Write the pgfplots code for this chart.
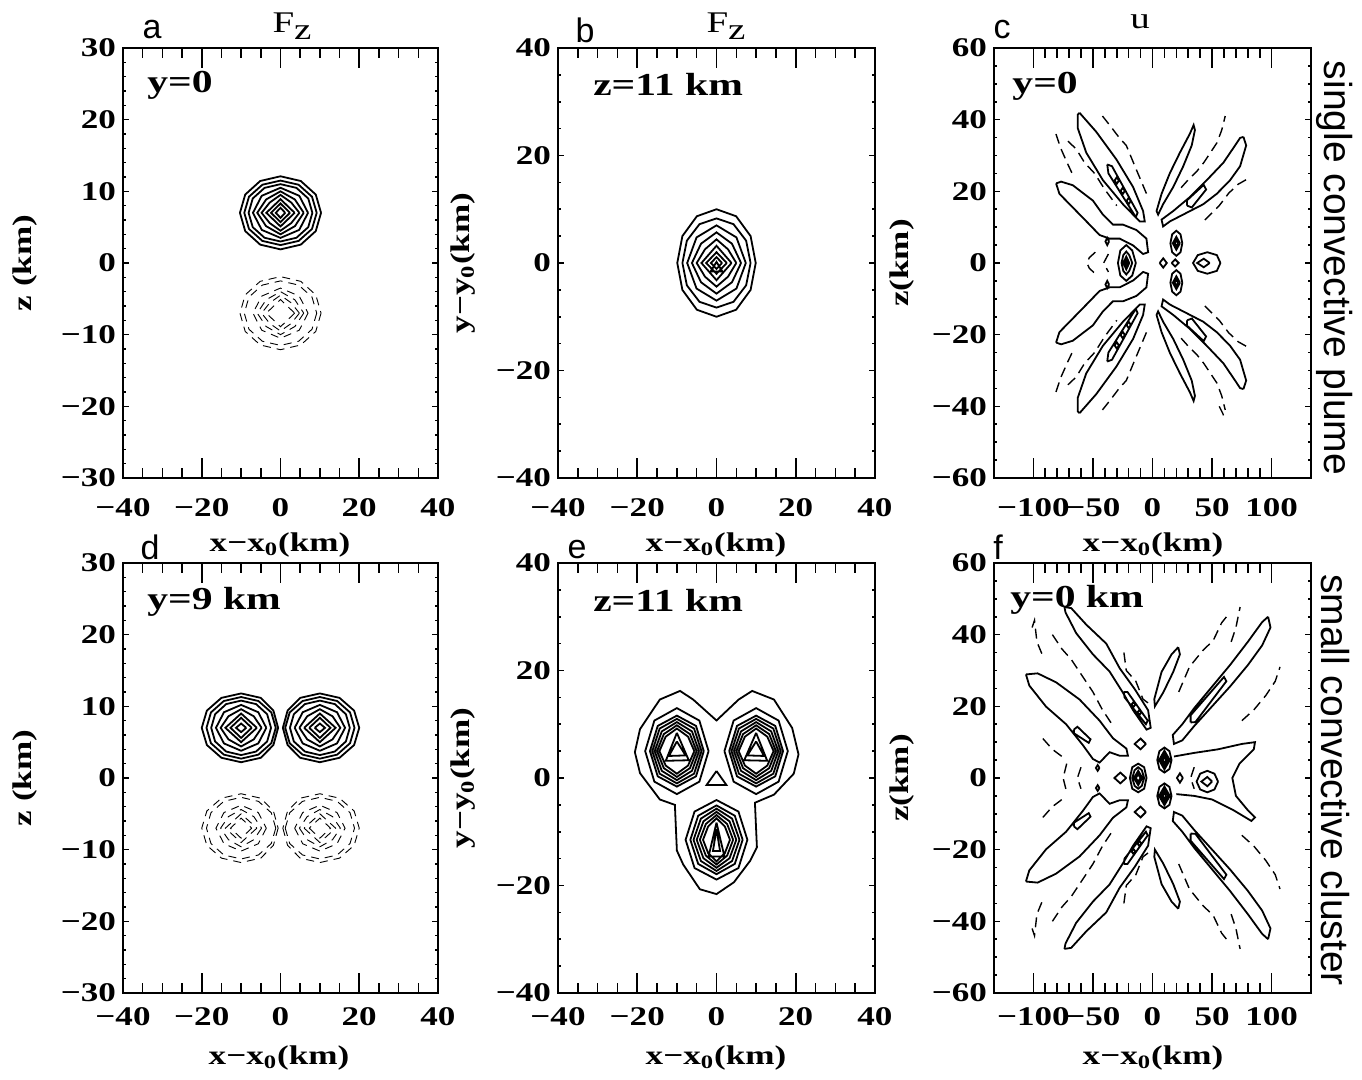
\documentclass[border=0pt]{standalone}
\usepackage{pgfplots}
\pgfplotsset{compat=1.18}
\usepackage{fontspec}
\setmainfont{Liberation Serif}
\newfontfamily\lab{Liberation Serif}[FakeStretch=1.3]
\newfontfamily\sflab{Liberation Sans}
\newcommand\tk{\lab\bfseries\fontsize{13.5}{15}\selectfont}
\newcommand\lb{\lab\bfseries\fontsize{13.5}{15}\selectfont}
\newcommand\an{\lab\bfseries\fontsize{16}{18}\selectfont}
\newcommand\pl{\sflab\fontsize{17}{19}\selectfont}
\newcommand\ti{\lab\fontsize{15}{17}\selectfont}
\newcommand\rl{\sflab\fontsize{19.5}{21}\selectfont}
\newcommand\Fz{F\raisebox{-0.55ex}{z}}
\pgfplotsset{
 myax/.style={scale only axis, anchor=south west,
   axis line style={line width=1pt},
   tick style={line width=0.8pt, black},
   tick align=inside,
   ticklabel style={font=\tk},
   unbounded coords=jump, clip=true},
 rowA/.style={xticklabel style={yshift=-6.5pt}},
 rowB/.style={xticklabel style={yshift=-3.5pt}},
 xonly/.style={major tick length=10pt, minor tick length=5pt, ytick=\empty},
 yonly/.style={major tick length=3pt, minor tick length=1.5pt, xtick=\empty},
 small/.style={xmin=-40,xmax=40, xtick={-40,-20,0,20,40}, xticklabels={−40,−20,0,20,40}, minor x tick num=3},
 zax/.style={ymin=-30,ymax=30, ytick={-30,-20,-10,0,10,20,30}, yticklabels={−30,−20,−10,0,10,20,30}, minor y tick num=4},
 yax/.style={ymin=-40,ymax=40, ytick={-40,-20,0,20,40}, yticklabels={−40,−20,0,20,40}, minor y tick num=3},
 big/.style={xmin=-133,xmax=133, xtick={-100,-50,0,50,100}, xticklabels={−100,−50,0,50,100}, minor x tick num=4,
   ymin=-60,ymax=60, ytick={-60,-40,-20,0,20,40,60}, yticklabels={−60,−40,−20,0,20,40,60}, minor y tick num=3},
 sol/.style={line width=0.9pt, black},
 das/.style={line width=0.45pt, black, dash pattern=on 4pt off 3pt},
 dasb/.style={line width=0.7pt, black, dash pattern=on 5pt off 3pt},
}
\begin{document}
\begin{tikzpicture}
\useasboundingbox (0pt,0pt) rectangle (681pt,540pt);
% ---------------- panel a
\begin{axis}[myax, rowA, small, zax, xonly, at={(61.5pt,301pt)}, width=157.5pt, height=215pt]
\addplot[sol] coordinates {
(10.3,7)(8.96,9.55)(5.15,11.44)(0,12.1)(-5.15,11.44)(-8.96,9.55)(-10.3,7)(-8.96,4.45)(-5.15,2.56)(0,1.9)(5.15,2.56)(8.96,4.45)(10.3,7) (nan,nan)
(9.2,7)(8,9.25)(4.6,10.92)(0,11.5)(-4.6,10.92)(-8,9.25)(-9.2,7)(-8,4.75)(-4.6,3.08)(0,2.5)(4.6,3.08)(8,4.75)(9.2,7) (nan,nan)
(8.1,7)(7.05,9)(4.05,10.48)(0,11)(-4.05,10.48)(-7.05,9)(-8.1,7)(-7.05,5)(-4.05,3.52)(0,3)(4.05,3.52)(7.05,5)(8.1,7) (nan,nan)
(7,7)(4.76,9.38)(0,10.5)(-4.76,9.38)(-7,7)(-4.76,4.62)(0,3.5)(4.76,4.62)(7,7) (nan,nan)
(5.9,7)(3.66,8.86)(0,10)(-3.66,8.86)(-5.9,7)(-3.66,5.14)(0,4)(3.66,5.14)(5.9,7) (nan,nan)
(4.8,7)(2.74,8.43)(0,9.5)(-2.74,8.43)(-4.8,7)(-2.74,5.57)(0,4.5)(2.74,5.57)(4.8,7) (nan,nan)
(3.6,7)(0,8.9)(-3.6,7)(0,5.1)(3.6,7) (nan,nan)
(2.4,7)(0,8.3)(-2.4,7)(0,5.7)(2.4,7) (nan,nan)
(1.2,7)(0,7.7)(-1.2,7)(0,6.3)(1.2,7)
};
\addplot[das] coordinates {
(10.3,-7)(8.96,-9.55)(5.15,-11.44)(0,-12.1)(-5.15,-11.44)(-8.96,-9.55)(-10.3,-7)(-8.96,-4.45)(-5.15,-2.56)(0,-1.9)(5.15,-2.56)(8.96,-4.45)(10.3,-7) (nan,nan)
(9.2,-7)(8,-9.25)(4.6,-10.92)(0,-11.5)(-4.6,-10.92)(-8,-9.25)(-9.2,-7)(-8,-4.75)(-4.6,-3.08)(0,-2.5)(4.6,-3.08)(8,-4.75)(9.2,-7) (nan,nan)
(7,-7)(4.76,-9.38)(0,-10.5)(-4.76,-9.38)(-7,-7)(-4.76,-4.62)(0,-3.5)(4.76,-4.62)(7,-7) (nan,nan)
(5.9,-7)(3.66,-8.86)(0,-10)(-3.66,-8.86)(-5.9,-7)(-3.66,-5.14)(0,-4)(3.66,-5.14)(5.9,-7) (nan,nan)
(4.8,-7)(2.74,-8.43)(0,-9.5)(-2.74,-8.43)(-4.8,-7)(-2.74,-5.57)(0,-4.5)(2.74,-5.57)(4.8,-7) (nan,nan)
(3.6,-7)(0,-8.9)(-3.6,-7)(0,-5.1)(3.6,-7)
};
\node[anchor=west,font=\an,inner sep=0pt] at (rel axis cs:0.076,0.913) {y=0};
\end{axis}
\begin{axis}[myax, small, zax, yonly, at={(61.5pt,301pt)}, width=157.5pt, height=215pt]
\end{axis}
% ---------------- panel b
\begin{axis}[myax, rowA, small, yax, xonly, at={(279pt,301pt)}, width=158.5pt, height=215pt]
\addplot[sol] coordinates {
(9.9,0)(8.61,5)(4.95,8.7)(0,10)(-4.95,8.7)(-8.61,5)(-9.9,0)(-8.61,-5)(-4.95,-8.7)(0,-10)(4.95,-8.7)(8.61,-5)(9.9,0) (nan,nan)
(8.6,0)(7.48,4.15)(4.3,7.22)(0,8.3)(-4.3,7.22)(-7.48,4.15)(-8.6,0)(-7.48,-4.15)(-4.3,-7.22)(0,-8.3)(4.3,-7.22)(7.48,-4.15)(8.6,0) (nan,nan)
(7.4,0)(5.03,4.76)(0,7)(-5.03,4.76)(-7.4,0)(-5.03,-4.76)(0,-7)(5.03,-4.76)(7.4,0) (nan,nan)
(6.2,0)(3.9,3.59)(0,5.7)(-3.9,3.59)(-6.2,0)(-3.9,-3.59)(0,-5.7)(3.9,-3.59)(6.2,0) (nan,nan)
(5,0)(2.9,2.55)(0,4.4)(-2.9,2.55)(-5,0)(-2.9,-2.55)(0,-4.4)(2.9,-2.55)(5,0) (nan,nan)
(3.8,0)(0,3.2)(-3.8,0)(0,-3.2)(3.8,0) (nan,nan)
(2.6,0)(0,2)(-2.6,0)(0,-2)(2.6,0) (nan,nan)
(1.4,0)(0,1.1)(-1.4,0)(0,-1.1)(1.4,0) (nan,nan)
(-1.5,-1.6)(1.5,-1.6)(0,0.2)(-1.5,-1.6)
};
\node[anchor=west,font=\an,inner sep=0pt] at (rel axis cs:0.11,0.916) {z=11 km};
\end{axis}
\begin{axis}[myax, small, yax, yonly, at={(279pt,301pt)}, width=158.5pt, height=215pt]
\end{axis}
% ---------------- panel c
\begin{axis}[myax, rowA, big, xonly, at={(497pt,301pt)}, width=158.5pt, height=215pt]
\addplot[sol] coordinates {
(-61.2,41.9)(-47.2,36.6)(-30.3,28.9)(-16.3,21.2)(-7.9,14.5)(-6.5,11.6)(-10.7,11.6)(-24.8,16.4)(-41.6,23.1)(-55.6,30.8)(-62.7,37.6)(-62.7,41.4)(-61.2,41.9) (nan,nan)
(-61.2,-41.9)(-47.2,-36.6)(-30.3,-28.9)(-16.3,-21.2)(-7.9,-14.5)(-6.5,-11.6)(-10.7,-11.6)(-24.8,-16.4)(-41.6,-23.1)(-55.6,-30.8)(-62.7,-37.6)(-62.7,-41.4)(-61.2,-41.9) (nan,nan)
(-38,27.5)(-34,27)(-12.5,14)(-14,12.8)(-37,25)(-38,27.5) (nan,nan)
(-38,-27.5)(-34,-27)(-12.5,-14)(-14,-12.8)(-37,-25)(-38,-27.5) (nan,nan)
(-28.2,23)(-30,23.9)(-31.8,23)(-30,22.1)(-28.2,23) (nan,nan)
(-23.2,20.1)(-25,21)(-26.8,20.1)(-25,19.2)(-23.2,20.1) (nan,nan)
(-18.2,17.3)(-20,18.2)(-21.8,17.3)(-20,16.4)(-18.2,17.3) (nan,nan)
(-28.2,-23)(-30,-23.9)(-31.8,-23)(-30,-22.1)(-28.2,-23) (nan,nan)
(-23.2,-20.1)(-25,-21)(-26.8,-20.1)(-25,-19.2)(-23.2,-20.1) (nan,nan)
(-18.2,-17.3)(-20,-18.2)(-21.8,-17.3)(-20,-16.4)(-18.2,-17.3) (nan,nan)
(-80.9,22.2)(-76.7,22.7)(-66.9,21.7)(-50,17.4)(-41.6,13.5)(-33.2,10.7)(-24.8,10.7)(-13.5,9.2)(-5.1,6.8)(-3.7,3)(-7.9,2.5)(-16.3,4.9)(-27.5,6.8)(-36,6.8)(-44.4,7.8)(-52.8,10.7)(-66.9,15.5)(-78.1,19.3)(-80.9,22.2) (nan,nan)
(-80.9,-22.2)(-76.7,-22.7)(-66.9,-21.7)(-50,-17.4)(-41.6,-13.5)(-33.2,-10.7)(-24.8,-10.7)(-13.5,-9.2)(-5.1,-6.8)(-3.7,-3)(-7.9,-2.5)(-16.3,-4.9)(-27.5,-6.8)(-36,-6.8)(-44.4,-7.8)(-52.8,-10.7)(-66.9,-15.5)(-78.1,-19.3)(-80.9,-22.2) (nan,nan)
(35.6,37.1)(32.9,32.8)(25.8,27)(17.4,21.2)(8.9,16.4)(4.7,13.5)(3.4,14.5)(7.6,19.3)(14.6,25.1)(23,30.8)(31.4,36.1)(34.5,38.5)(35.6,37.1) (nan,nan)
(35.6,-37.1)(32.9,-32.8)(25.8,-27)(17.4,-21.2)(8.9,-16.4)(4.7,-13.5)(3.4,-14.5)(7.6,-19.3)(14.6,-25.1)(23,-30.8)(31.4,-36.1)(34.5,-38.5)(35.6,-37.1) (nan,nan)
(76.3,35.2)(78.6,32.8)(73.5,27)(65.1,23.1)(53.9,19.3)(42.6,16.4)(28.6,14)(14.6,11.6)(8.9,10.2)(7.6,12.1)(17.4,14.5)(31.4,18.4)(45.5,23.1)(59.5,28)(69.3,32.8)(73.5,34.9)(76.3,35.2) (nan,nan)
(76.3,-35.2)(78.6,-32.8)(73.5,-27)(65.1,-23.1)(53.9,-19.3)(42.6,-16.4)(28.6,-14)(14.6,-11.6)(8.9,-10.2)(7.6,-12.1)(17.4,-14.5)(31.4,-18.4)(45.5,-23.1)(59.5,-28)(69.3,-32.8)(73.5,-34.9)(76.3,-35.2) (nan,nan)
(29,16)(33,15.5)(45,20.5)(43,21.8)(29,17.5)(29,16) (nan,nan)
(29,-16)(33,-15.5)(45,-20.5)(43,-21.8)(29,-17.5)(29,-16) (nan,nan)
(-14,0)(-17,3.5)(-22,5)(-27,3.5)(-29,0)(-27,-3.5)(-22,-5)(-17,-3.5)(-14,0) (nan,nan)
(-17,0)(-19.5,2.2)(-22,3.2)(-24.5,2.2)(-26,0)(-24.5,-2.2)(-22,-3.2)(-19.5,-2.2)(-17,0) (nan,nan)
(-19.5,0)(-22,1.8)(-24.5,0)(-22,-1.8)(-19.5,0) (nan,nan)
(-21,0)(-22,0.8)(-23,0)(-22,-0.8)(-21,0) (nan,nan)
(-36.5,6)(-38,7)(-39.5,6)(-38,5)(-36.5,6) (nan,nan)
(-36.5,-6)(-38,-7)(-39.5,-6)(-38,-5)(-36.5,-6) (nan,nan)
(25,5.5)(23.5,8)(20,9)(16.5,8)(15,5.5)(16.5,3)(20,2)(23.5,3)(25,5.5) (nan,nan)
(23,5.5)(20,7.3)(17,5.5)(20,3.7)(23,5.5) (nan,nan)
(21.5,5.5)(20,6.3)(18.5,5.5)(20,4.7)(21.5,5.5) (nan,nan)
(25,-5.5)(23.5,-8)(20,-9)(16.5,-8)(15,-5.5)(16.5,-3)(20,-2)(23.5,-3)(25,-5.5) (nan,nan)
(23,-5.5)(20,-7.3)(17,-5.5)(20,-3.7)(23,-5.5) (nan,nan)
(21.5,-5.5)(20,-6.3)(18.5,-5.5)(20,-4.7)(21.5,-5.5) (nan,nan)
(6,0)(9,1.3)(12,0)(9,-1.3)(6,0) (nan,nan)
(16,0)(19,1)(22,0)(19,-1)(16,0) (nan,nan)
(57,0)(54,2.2)(46,3)(38,2.2)(34,0)(38,-2.2)(46,-3)(54,-2.2)(57,0) (nan,nan)
(48,0)(43,1.2)(37.5,0)(43,-1.2)(48,0)
};
\addplot[dasb] coordinates {
(-71,34)(-64,31.8)(-57,28)(-48.6,25)(-40,20.5)(-30,16) (nan,nan)
(-71,-34)(-64,-31.8)(-57,-28)(-48.6,-25)(-40,-20.5)(-30,-16) (nan,nan)
(-81,36)(-77,32)(-71,27.5)(-66,24) (nan,nan)
(-81,-36)(-77,-32)(-71,-27.5)(-66,-24) (nan,nan)
(-42,41)(-36,38.5)(-28,35)(-22,32.8)(-13.5,26)(-5,19.3) (nan,nan)
(-42,-41)(-36,-38.5)(-28,-35)(-22,-32.8)(-13.5,-26)(-5,-19.3) (nan,nan)
(-48,3)(-53,1.5)(-55,0)(-53,-1.5)(-48,-3) (nan,nan)
(-37,2.5)(-41,0)(-37,-2.5) (nan,nan)
(24,21)(31,23.6)(37,25.5)(43,28)(48,30.5)(54,33.5)(58,37)(61,41) (nan,nan)
(24,-21)(31,-23.6)(37,-25.5)(43,-28)(48,-30.5)(54,-33.5)(58,-37)(61,-41) (nan,nan)
(44,12)(50,14)(56,16)(64,19.5)(72,22)(80,23.5) (nan,nan)
(44,-12)(50,-14)(56,-16)(64,-19.5)(72,-22)(80,-23.5) (nan,nan)
(56,-40)(59,-42)(61,-44)
};
\node[anchor=west,font=\an,inner sep=0pt] at (rel axis cs:0.057,0.91) {y=0};
\end{axis}
\begin{axis}[myax, big, yonly, at={(497pt,301pt)}, width=158.5pt, height=215pt]
\end{axis}
% ---------------- panel d
\begin{axis}[myax, rowB, small, zax, xonly, at={(61.5pt,43.5pt)}, width=157.5pt, height=215pt]
\addplot[sol] coordinates {
(-0.6,7)(-1.8,9.4)(-5,11.18)(-10,11.8)(-15,11.18)(-18.7,9.4)(-20,7)(-18.7,4.6)(-15,2.82)(-10,2.2)(-5,2.82)(-1.8,4.6)(-0.6,7) (nan,nan)
(-1.2,7)(-2.34,9.15)(-5.6,10.74)(-10,11.3)(-14.4,10.74)(-17.66,9.15)(-18.8,7)(-17.66,4.85)(-14.4,3.26)(-10,2.7)(-5.6,3.26)(-2.34,4.85)(-1.2,7) (nan,nan)
(-2.4,7)(-3.39,8.9)(-6.2,10.31)(-10,10.8)(-13.8,10.31)(-16.61,8.9)(-17.6,7)(-16.61,5.1)(-13.8,3.69)(-10,3.2)(-6.2,3.69)(-3.39,5.1)(-2.4,7) (nan,nan)
(-3.6,7)(-5.65,9.18)(-10,10.2)(-14.35,9.18)(-16.4,7)(-14.35,4.82)(-10,3.8)(-5.65,4.82)(-3.6,7) (nan,nan)
(-4.8,7)(-6.78,8.61)(-10,9.6)(-13.22,8.61)(-15.2,7)(-13.22,5.39)(-10,4.4)(-6.78,5.39)(-4.8,7) (nan,nan)
(-6,7)(-10,9)(-14,7)(-10,5)(-6,7) (nan,nan)
(-7.3,7)(-10,8.4)(-12.7,7)(-10,5.6)(-7.3,7) (nan,nan)
(-8.7,7)(-10,7.6)(-11.3,7)(-10,6.4)(-8.7,7) (nan,nan)
(0.6,7)(1.8,9.4)(5,11.18)(10,11.8)(15,11.18)(18.7,9.4)(20,7)(18.7,4.6)(15,2.82)(10,2.2)(5,2.82)(1.8,4.6)(0.6,7) (nan,nan)
(1.2,7)(2.34,9.15)(5.6,10.74)(10,11.3)(14.4,10.74)(17.66,9.15)(18.8,7)(17.66,4.85)(14.4,3.26)(10,2.7)(5.6,3.26)(2.34,4.85)(1.2,7) (nan,nan)
(2.4,7)(3.39,8.9)(6.2,10.31)(10,10.8)(13.8,10.31)(16.61,8.9)(17.6,7)(16.61,5.1)(13.8,3.69)(10,3.2)(6.2,3.69)(3.39,5.1)(2.4,7) (nan,nan)
(3.6,7)(5.65,9.18)(10,10.2)(14.35,9.18)(16.4,7)(14.35,4.82)(10,3.8)(5.65,4.82)(3.6,7) (nan,nan)
(4.8,7)(6.78,8.61)(10,9.6)(13.22,8.61)(15.2,7)(13.22,5.39)(10,4.4)(6.78,5.39)(4.8,7) (nan,nan)
(6,7)(10,9)(14,7)(10,5)(6,7) (nan,nan)
(7.3,7)(10,8.4)(12.7,7)(10,5.6)(7.3,7) (nan,nan)
(8.7,7)(10,7.6)(11.3,7)(10,6.4)(8.7,7)
};
\addplot[das] coordinates {
(-0.6,-7)(-1.8,-9.4)(-5,-11.18)(-10,-11.8)(-15,-11.18)(-18.7,-9.4)(-20,-7)(-18.7,-4.6)(-15,-2.82)(-10,-2.2)(-5,-2.82)(-1.8,-4.6)(-0.6,-7) (nan,nan)
(-1.2,-7)(-2.34,-9.15)(-5.6,-10.74)(-10,-11.3)(-14.4,-10.74)(-17.66,-9.15)(-18.8,-7)(-17.66,-4.85)(-14.4,-3.26)(-10,-2.7)(-5.6,-3.26)(-2.34,-4.85)(-1.2,-7) (nan,nan)
(-3.6,-7)(-5.65,-9.18)(-10,-10.2)(-14.35,-9.18)(-16.4,-7)(-14.35,-4.82)(-10,-3.8)(-5.65,-4.82)(-3.6,-7) (nan,nan)
(-4.8,-7)(-6.78,-8.61)(-10,-9.6)(-13.22,-8.61)(-15.2,-7)(-13.22,-5.39)(-10,-4.4)(-6.78,-5.39)(-4.8,-7) (nan,nan)
(-6,-7)(-10,-9)(-14,-7)(-10,-5)(-6,-7) (nan,nan)
(-7.3,-7)(-10,-8.4)(-12.7,-7)(-10,-5.6)(-7.3,-7) (nan,nan)
(0.6,-7)(1.8,-9.4)(5,-11.18)(10,-11.8)(15,-11.18)(18.7,-9.4)(20,-7)(18.7,-4.6)(15,-2.82)(10,-2.2)(5,-2.82)(1.8,-4.6)(0.6,-7) (nan,nan)
(1.2,-7)(2.34,-9.15)(5.6,-10.74)(10,-11.3)(14.4,-10.74)(17.66,-9.15)(18.8,-7)(17.66,-4.85)(14.4,-3.26)(10,-2.7)(5.6,-3.26)(2.34,-4.85)(1.2,-7) (nan,nan)
(3.6,-7)(5.65,-9.18)(10,-10.2)(14.35,-9.18)(16.4,-7)(14.35,-4.82)(10,-3.8)(5.65,-4.82)(3.6,-7) (nan,nan)
(4.8,-7)(6.78,-8.61)(10,-9.6)(13.22,-8.61)(15.2,-7)(13.22,-5.39)(10,-4.4)(6.78,-5.39)(4.8,-7) (nan,nan)
(6,-7)(10,-9)(14,-7)(10,-5)(6,-7) (nan,nan)
(7.3,-7)(10,-8.4)(12.7,-7)(10,-5.6)(7.3,-7)
};
\node[anchor=west,font=\an,inner sep=0pt] at (rel axis cs:0.076,0.91) {y=9 km};
\end{axis}
\begin{axis}[myax, small, zax, yonly, at={(61.5pt,43.5pt)}, width=157.5pt, height=215pt]
\end{axis}
% ---------------- panel e
\begin{axis}[myax, rowB, small, yax, xonly, at={(279pt,43.5pt)}, width=158.5pt, height=215pt]
\addplot[sol] coordinates {
(-20.6,4.8)(-19.3,9.1)(-14.3,14.6)(-9.2,16.2)(-5.9,14.6)(0,10.7)(5.6,14.6)(9,16.2)(14.5,14.6)(19.1,9.3)(20.7,4.4)(19.5,0.8)(14.5,-3.1)(9.7,-4.6)(10.2,-12.9)(8.5,-15.4)(4.4,-19.4)(0,-21.6)(-4.2,-20.7)(-8.4,-16.1)(-10,-13.5)(-10.5,-5)(-14.3,-4)(-19.3,0.9)(-20.6,4.8) (nan,nan)
(-2,5)(-4.32,10.68)(-10,13)(-15.68,10.68)(-18,5)(-15.68,-0.68)(-10,-3)(-4.32,-0.68)(-2,5) (nan,nan)
(-3.2,5)(-5.17,9.69)(-10,11.6)(-14.83,9.69)(-16.8,5)(-14.83,0.31)(-10,-1.6)(-5.17,0.31)(-3.2,5) (nan,nan)
(-3.8,5)(-5.66,9.2)(-10,11)(-14.34,9.2)(-16.2,5)(-14.34,0.8)(-10,-1)(-5.66,0.8)(-3.8,5) (nan,nan)
(-4.4,5)(-6.19,8.67)(-10,10.4)(-13.81,8.67)(-15.6,5)(-13.81,1.33)(-10,-0.4)(-6.19,1.33)(-4.4,5) (nan,nan)
(-5,5)(-6.7,8.17)(-10,9.8)(-13.3,8.17)(-15,5)(-13.3,1.83)(-10,0.2)(-6.7,1.83)(-5,5) (nan,nan)
(-5.6,5)(-7.18,7.69)(-10,9.2)(-12.82,7.69)(-14.4,5)(-12.82,2.31)(-10,0.8)(-7.18,2.31)(-5.6,5) (nan,nan)
(-10,8.4)(-12.8,3.2)(-7,3.3)(-10,8.4) (nan,nan)
(-10,6.8)(-12,4.1)(-7.8,4.2)(-10,6.8) (nan,nan)
(2,5)(4.32,10.68)(10,13)(15.68,10.68)(18,5)(15.68,-0.68)(10,-3)(4.32,-0.68)(2,5) (nan,nan)
(3.2,5)(5.17,9.69)(10,11.6)(14.83,9.69)(16.8,5)(14.83,0.31)(10,-1.6)(5.17,0.31)(3.2,5) (nan,nan)
(3.8,5)(5.66,9.2)(10,11)(14.34,9.2)(16.2,5)(14.34,0.8)(10,-1)(5.66,0.8)(3.8,5) (nan,nan)
(4.4,5)(6.19,8.67)(10,10.4)(13.81,8.67)(15.6,5)(13.81,1.33)(10,-0.4)(6.19,1.33)(4.4,5) (nan,nan)
(5,5)(6.7,8.17)(10,9.8)(13.3,8.17)(15,5)(13.3,1.83)(10,0.2)(6.7,1.83)(5,5) (nan,nan)
(5.6,5)(7.18,7.69)(10,9.2)(12.82,7.69)(14.4,5)(12.82,2.31)(10,0.8)(7.18,2.31)(5.6,5) (nan,nan)
(10,8.4)(12.8,3.2)(7,3.3)(10,8.4) (nan,nan)
(10,6.8)(12,4.1)(7.8,4.2)(10,6.8) (nan,nan)
(7.8,-11.5)(5.54,-6.25)(0,-4.1)(-5.54,-6.25)(-7.8,-11.5)(-5.54,-16.75)(0,-18.9)(5.54,-16.75)(7.8,-11.5) (nan,nan)
(6.6,-11.5)(4.62,-7.02)(0,-5.1)(-4.62,-7.02)(-6.6,-11.5)(-4.62,-15.98)(0,-17.9)(4.62,-15.98)(6.6,-11.5) (nan,nan)
(5.8,-11.5)(3.94,-7.56)(0,-5.7)(-3.94,-7.56)(-5.8,-11.5)(-3.94,-15.44)(0,-17.3)(3.94,-15.44)(5.8,-11.5) (nan,nan)
(5,-11.5)(3.3,-8.07)(0,-6.3)(-3.3,-8.07)(-5,-11.5)(-3.3,-14.93)(0,-16.7)(3.3,-14.93)(5,-11.5) (nan,nan)
(4.2,-11.5)(2.69,-8.56)(0,-6.9)(-2.69,-8.56)(-4.2,-11.5)(-2.69,-14.44)(0,-16.1)(2.69,-14.44)(4.2,-11.5) (nan,nan)
(3.4,-11.5)(2.11,-9.02)(0,-7.5)(-2.11,-9.02)(-3.4,-11.5)(-2.11,-13.98)(0,-15.5)(2.11,-13.98)(3.4,-11.5) (nan,nan)
(0,-8.3)(-2,-14.6)(2,-14.6)(0,-8.3) (nan,nan)
(0,-9.5)(-0.9,-13.6)(0.9,-13.6)(0,-9.5) (nan,nan)
(0,1.3)(-2.5,-1.3)(2.5,-1.3)(0,1.3)
};
\node[anchor=west,font=\an,inner sep=0pt] at (rel axis cs:0.11,0.914) {z=11 km};
\end{axis}
\begin{axis}[myax, small, yax, yonly, at={(279pt,43.5pt)}, width=158.5pt, height=215pt]
\end{axis}
% ---------------- panel f
\begin{axis}[myax, rowB, big, xonly, at={(497pt,43.5pt)}, width=158.5pt, height=215pt]
\addplot[sol] coordinates {
(-73.9,47.7)(-68.2,47.4)(-55.6,42.8)(-38.8,37.5)(-27.5,30.6)(-14.9,24.8)(-3.7,18.9)(-1.5,14)(-5,13.5)(-16.3,18.9)(-24.8,23.8)(-36,29.7)(-50,34.5)(-64,40.4)(-73,46.2)(-73.9,47.7) (nan,nan)
(-73.9,-47.7)(-68.2,-47.4)(-55.6,-42.8)(-38.8,-37.5)(-27.5,-30.6)(-14.9,-24.8)(-3.7,-18.9)(-1.5,-14)(-5,-13.5)(-16.3,-18.9)(-24.8,-23.8)(-36,-29.7)(-50,-34.5)(-64,-40.4)(-73,-46.2)(-73.9,-47.7) (nan,nan)
(-24,24)(-21,24)(-4,16)(-5.5,15)(-23.5,22.5)(-24,24) (nan,nan)
(-24,-24)(-21,-24)(-4,-16)(-5.5,-15)(-23.5,-22.5)(-24,-24) (nan,nan)
(-14.4,20.5)(-16,21.2)(-17.6,20.5)(-16,19.8)(-14.4,20.5) (nan,nan)
(-9.4,18.3)(-11,19)(-12.6,18.3)(-11,17.6)(-9.4,18.3) (nan,nan)
(-14.4,-20.5)(-16,-21.2)(-17.6,-20.5)(-16,-19.8)(-14.4,-20.5) (nan,nan)
(-9.4,-18.3)(-11,-19)(-12.6,-18.3)(-11,-17.6)(-9.4,-18.3) (nan,nan)
(-106.2,28.9)(-96.4,29.2)(-80.9,26.7)(-61.2,21.9)(-44.4,16)(-33.2,11.1)(-21.9,8.2)(-20.6,6.2)(-27.5,6.2)(-36,7.2)(-44.4,4.3)(-50,5.3)(-58.5,9.2)(-72.5,15)(-89.3,19.9)(-103.4,25.8)(-106.2,28.9) (nan,nan)
(-106.2,-28.9)(-96.4,-29.2)(-80.9,-26.7)(-61.2,-21.9)(-44.4,-16)(-33.2,-11.1)(-21.9,-8.2)(-20.6,-6.2)(-27.5,-6.2)(-36,-7.2)(-44.4,-4.3)(-50,-5.3)(-58.5,-9.2)(-72.5,-15)(-89.3,-19.9)(-103.4,-25.8)(-106.2,-28.9) (nan,nan)
(-66,13.5)(-63,14.3)(-52,10.8)(-53.5,9.8)(-66,12.5)(-66,13.5) (nan,nan)
(-66,-13.5)(-63,-14.3)(-52,-10.8)(-53.5,-9.8)(-66,-12.5)(-66,-13.5) (nan,nan)
(-44.5,2.8)(-46,3.6)(-47.5,2.8)(-46,2)(-44.5,2.8) (nan,nan)
(-44.5,-2.8)(-46,-3.6)(-47.5,-2.8)(-46,-2)(-44.5,-2.8) (nan,nan)
(21.6,36.5)(23,34.5)(17.4,29.6)(8.9,23.8)(2,20)(1.5,22)(7.6,29.6)(16,34.5)(21.6,36.5) (nan,nan)
(21.6,-36.5)(23,-34.5)(17.4,-29.6)(8.9,-23.8)(2,-20)(1.5,-22)(7.6,-29.6)(16,-34.5)(21.6,-36.5) (nan,nan)
(97,45)(99,42)(92,37)(80,31.5)(65,25.5)(50,20)(35,14.5)(25,10.5)(18,9.5)(17,12)(25,15)(35,19.5)(50,25.5)(65,31.5)(80,38)(92,43.5)(97,45) (nan,nan)
(97,-45)(99,-42)(92,-37)(80,-31.5)(65,-25.5)(50,-20)(35,-14.5)(25,-10.5)(18,-9.5)(17,-12)(25,-15)(35,-19.5)(50,-25.5)(65,-31.5)(80,-38)(92,-43.5)(97,-45) (nan,nan)
(32,15.5)(36,15.6)(62,27)(60,28.2)(32,17.5)(32,15.5) (nan,nan)
(32,-15.5)(36,-15.6)(62,-27)(60,-28.2)(32,-17.5)(32,-15.5) (nan,nan)
(18,6)(35,7)(55,8)(75,9.5)(86,10)(85,8)(73,4)(67,0)(70,-5)(80,-9)(86,-11)(83,-12)(68,-9)(50,-6)(35,-5)(20,-4.5) (nan,nan)
(55,-1)(52,1.2)(46,2)(40,1.2)(37,-1)(40,-3.2)(46,-4)(52,-3.2)(55,-1) (nan,nan)
(50,-1)(46,0.3)(41,-1)(46,-2.3)(50,-1) (nan,nan)
(-5,0)(-7,3)(-12,4)(-17,3)(-19,0)(-17,-3)(-12,-4)(-7,-3)(-5,0) (nan,nan)
(-7,0)(-9,2.2)(-12,3)(-15,2.2)(-17,0)(-15,-2.2)(-12,-3)(-9,-2.2)(-7,0) (nan,nan)
(-8.5,0)(-12,2)(-15.5,0)(-12,-2)(-8.5,0) (nan,nan)
(-10,0)(-12,1)(-14,0)(-12,-1)(-10,0) (nan,nan)
(16,5)(14.2,7.5)(10,8.5)(5.8,7.5)(4,5)(5.8,2.5)(10,1.5)(14.2,2.5)(16,5) (nan,nan)
(14.5,5)(10,7.6)(5.5,5)(10,2.4)(14.5,5) (nan,nan)
(13,5)(10,6.7)(7,5)(10,3.3)(13,5) (nan,nan)
(11.5,5)(10,5.8)(8.5,5)(10,4.2)(11.5,5) (nan,nan)
(16,-5)(14.2,-7.5)(10,-8.5)(5.8,-7.5)(4,-5)(5.8,-2.5)(10,-1.5)(14.2,-2.5)(16,-5) (nan,nan)
(14.5,-5)(10,-7.6)(5.5,-5)(10,-2.4)(14.5,-5) (nan,nan)
(13,-5)(10,-6.7)(7,-5)(10,-3.3)(13,-5) (nan,nan)
(11.5,-5)(10,-5.8)(8.5,-5)(10,-4.2)(11.5,-5) (nan,nan)
(-5.5,9.5)(-10,11)(-15,9.5)(-10,8)(-5.5,9.5) (nan,nan)
(-5.5,-9.5)(-10,-11)(-15,-9.5)(-10,-8)(-5.5,-9.5) (nan,nan)
(25.5,0)(23,1.3)(20.5,0)(23,-1.3)(25.5,0) (nan,nan)
(-22,0)(-27,1.5)(-32,0)(-27,-1.5)(-22,0)
};
\addplot[dasb] coordinates {
(-84,40)(-76,36)(-68,33)(-60,29)(-50,24)(-42,19)(-34,15) (nan,nan)
(-84,-40)(-76,-36)(-68,-33)(-60,-29)(-50,-24)(-42,-19)(-34,-15) (nan,nan)
(-24,35)(-22,30)(-14,27)(-8,22)(-2,20.5) (nan,nan)
(-24,-35)(-22,-30)(-14,-27)(-8,-22)(-2,-20.5) (nan,nan)
(-101,42)(-99,44)(-97,38)(-92,34) (nan,nan)
(-101,-42)(-99,-44)(-97,-38)(-92,-34) (nan,nan)
(-92,11)(-84,8)(-76,6) (nan,nan)
(-92,-11)(-84,-8)(-76,-6) (nan,nan)
(-72,4)(-75,0)(-72,-4) (nan,nan)
(-60,3)(-63,0)(-60,-3) (nan,nan)
(22,24)(31,31)(42,35.5)(51,38.4)(58,43.3)(65,46.2) (nan,nan)
(22,-24)(31,-31)(42,-35.5)(51,-38.4)(58,-43.3)(65,-46.2) (nan,nan)
(66,38)(70,42)(73.5,47.7) (nan,nan)
(66,-38)(70,-42)(73.5,-47.7) (nan,nan)
(75,16)(85,19)(95,23)(103,27)(107,31) (nan,nan)
(75,-16)(85,-19)(95,-23)(103,-27)(107,-31) (nan,nan)
(35,3)(32,0)(35,-3)
};
\node[anchor=west,font=\an,inner sep=0pt] at (rel axis cs:0.05,0.915) {y=0 km};
\end{axis}
\begin{axis}[myax, big, yonly, at={(497pt,43.5pt)}, width=158.5pt, height=215pt]
\end{axis}
% ---------------- outer labels
\node[font=\pl] at (76pt,525pt) {a};
\node[font=\ti] at (146pt,527pt) {\Fz};
\node[font=\pl] at (292.5pt,525pt) {b};
\node[font=\ti] at (363pt,527pt) {\Fz};
\node[font=\pl] at (501pt,525pt) {c};
\node[font=\ti] at (570pt,529pt) {u};
\node[font=\pl] at (75pt,266.5pt) {d};
\node[font=\pl] at (288.5pt,265pt) {e};
\node[font=\pl] at (499pt,266.5pt) {f};
\node[font=\lb,rotate=90] at (12.5pt,408.5pt) {z (km)};
\node[font=\lb,rotate=90] at (231.5pt,408.5pt) {y−y\textsubscript{0}(km)};
\node[font=\lb,rotate=90] at (451pt,408.5pt) {z(km)};
\node[font=\lb,rotate=90] at (12.5pt,151pt) {z (km)};
\node[font=\lb,rotate=90] at (231.5pt,151pt) {y−y\textsubscript{0}(km)};
\node[font=\lb,rotate=90] at (451pt,151pt) {z(km)};
\node[font=\lb] at (140pt,267.5pt) {x−x\textsubscript{0}(km)};
\node[font=\lb] at (358pt,267.5pt) {x−x\textsubscript{0}(km)};
\node[font=\lb] at (576.5pt,267.5pt) {x−x\textsubscript{0}(km)};
\node[font=\lb] at (139.5pt,11pt) {x−x\textsubscript{0}(km)};
\node[font=\lb] at (358pt,11pt) {x−x\textsubscript{0}(km)};
\node[font=\lb] at (576.5pt,11pt) {x−x\textsubscript{0}(km)};
\node[font=\rl,rotate=-90] at (667.5pt,406pt) {single convective plume};
\node[font=\rl,rotate=-90] at (667.5pt,150pt) {small convective cluster};
\end{tikzpicture}
\end{document}
